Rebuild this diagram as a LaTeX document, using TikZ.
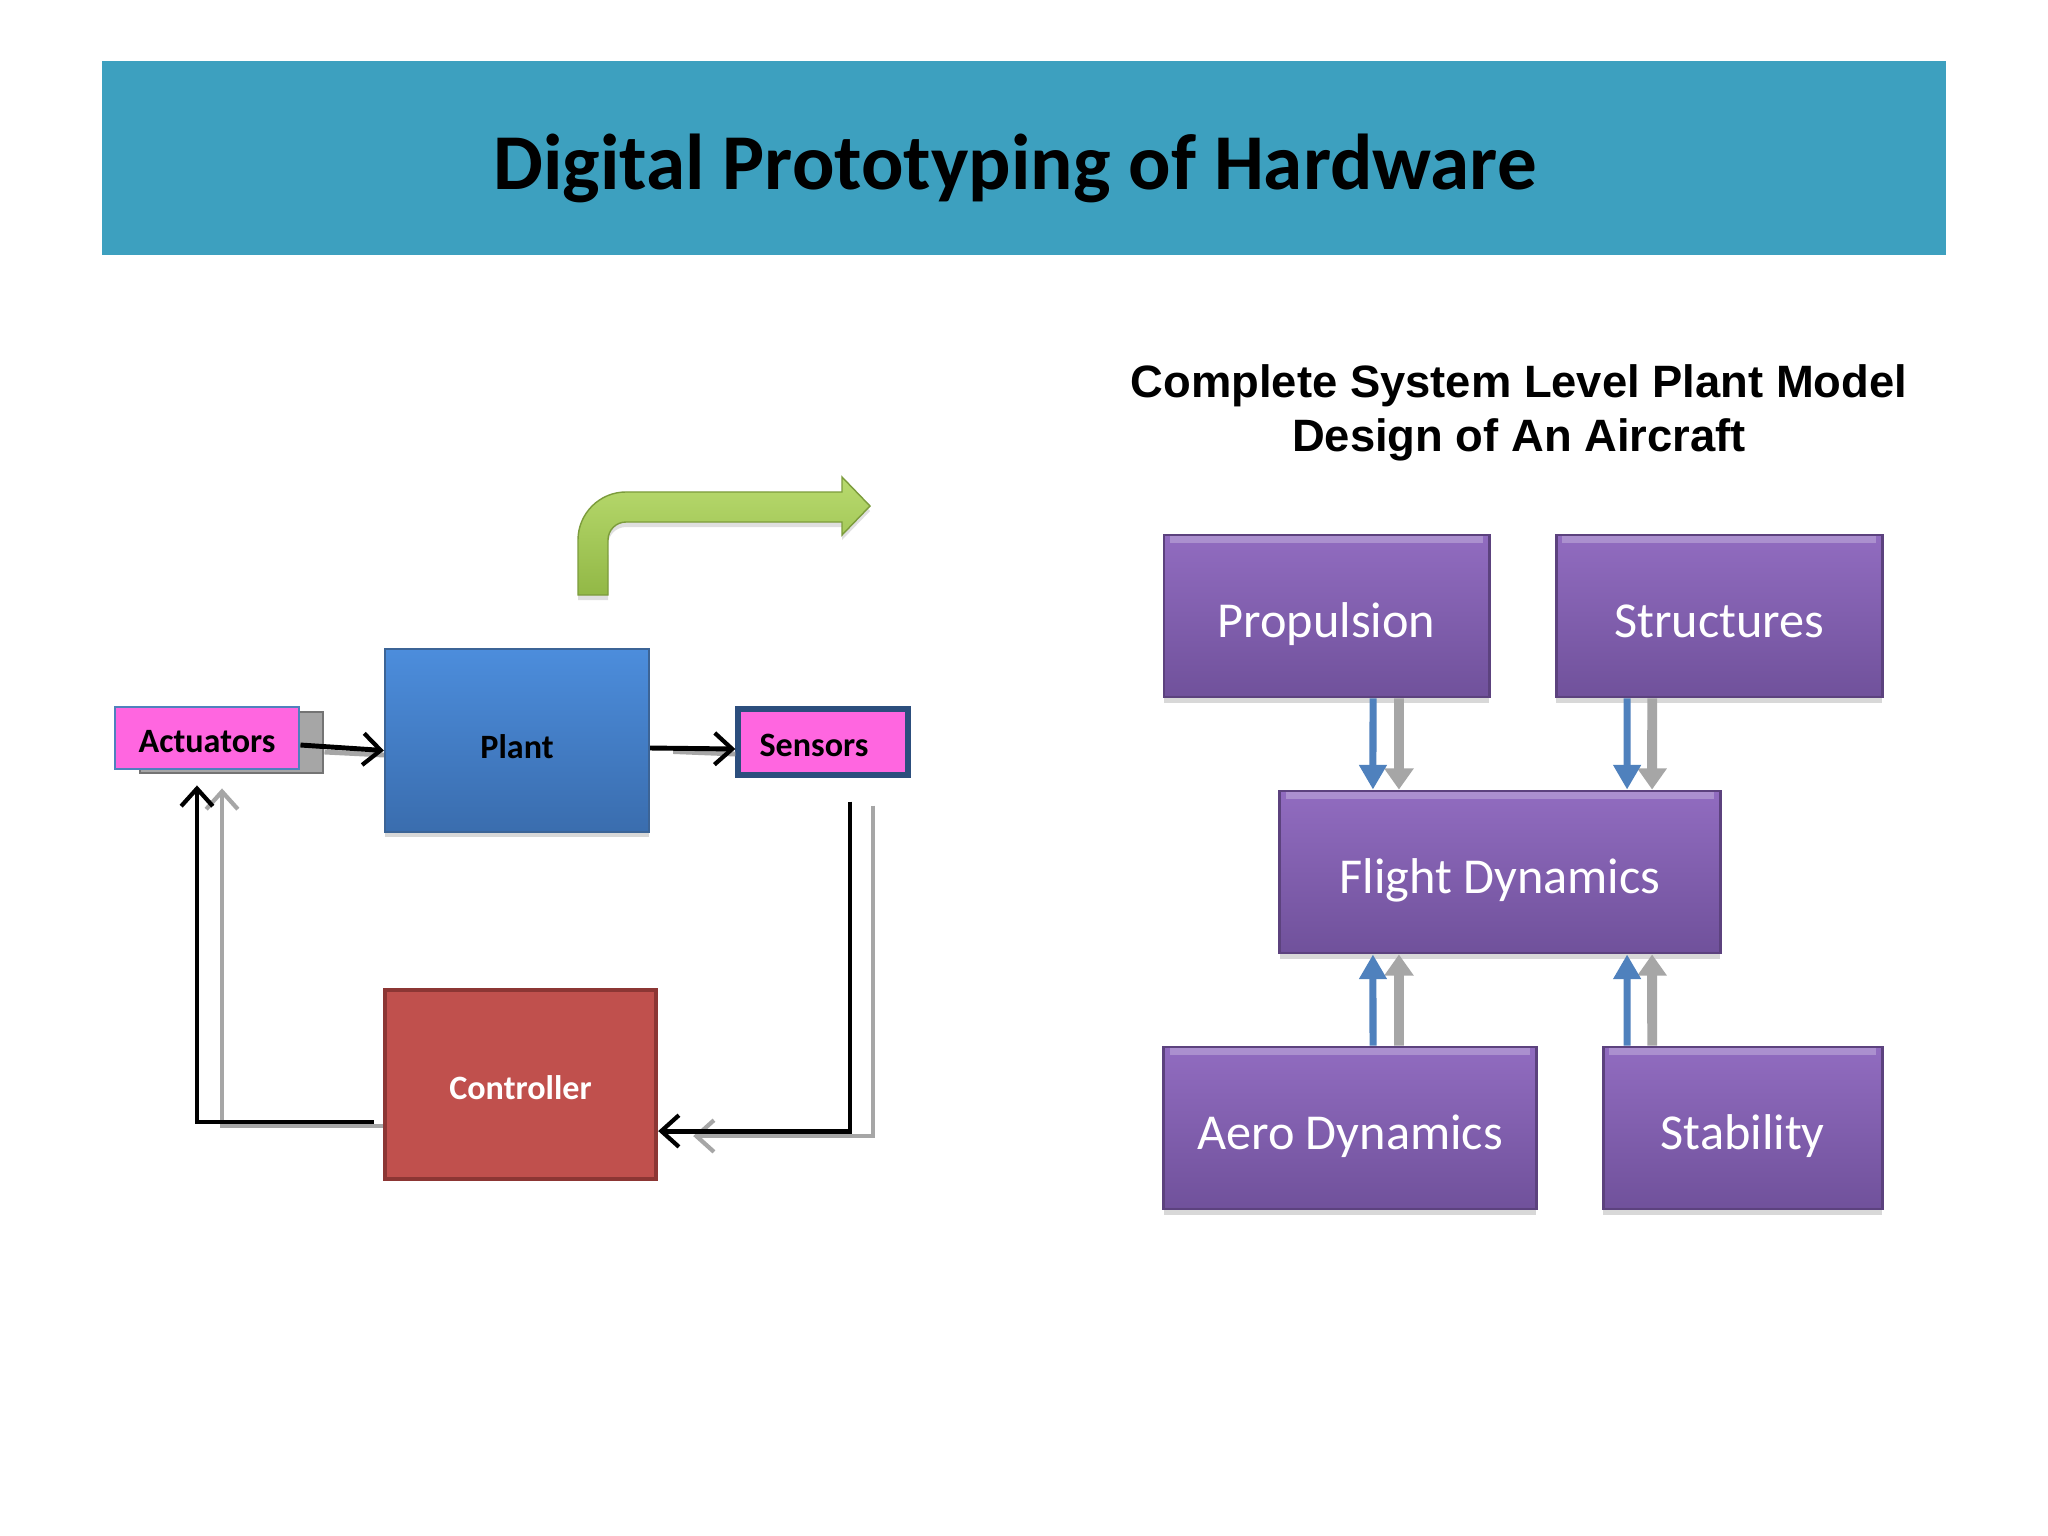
\documentclass[tikz,border=0pt]{standalone}
\usepackage{fontspec}
\setmainfont{Carlito}
\newfontfamily\arialfont{Liberation Sans}
\usetikzlibrary{positioning, arrows.meta, shadows}

\definecolor{titlebar}{RGB}{61,160,191}
\definecolor{pinkfill}{RGB}{255,102,224}
\definecolor{actedge}{RGB}{79,129,189}
\definecolor{sensedge}{RGB}{44,78,125}
\definecolor{planttop}{RGB}{76,141,220}
\definecolor{plantbot}{RGB}{58,109,174}
\definecolor{plantedge}{RGB}{60,100,150}
\definecolor{ctrlfill}{RGB}{192,80,77}
\definecolor{ctrledge}{RGB}{140,54,52}
\definecolor{purptop}{RGB}{145,108,192}
\definecolor{purpbot}{RGB}{112,81,155}
\definecolor{purpedge}{RGB}{92,66,126}
\definecolor{linkblue}{RGB}{79,129,189}
\definecolor{linkgray}{RGB}{166,166,166}
\definecolor{greenlight}{RGB}{184,218,110}
\definecolor{greendark}{RGB}{146,184,70}

\begin{document}
\begin{tikzpicture}[x=0.01cm, y=-0.01cm, inner sep=0pt, on grid,
    smallbox/.style={draw, rectangle, text height=0.85em, text depth=0.05em,
        font=\fontsize{9.7}{11}\selectfont\bfseries},
    bigbox/.style={rectangle, draw=purpedge, line width=0.8pt, top color=purptop, bottom color=purpbot,
        text=white, minimum height=1.62cm, text height=1.2em, text depth=0em,
        font=\fontsize{14.3}{17}\selectfont,
        drop shadow={shadow xshift=0cm, shadow yshift=-0.06cm, opacity=0.3},
        path picture={\draw[white, opacity=0.25, line width=0.08cm]
            ([xshift=0.06cm, yshift=-0.04cm]path picture bounding box.north west) --
            ([xshift=-0.06cm, yshift=-0.04cm]path picture bounding box.north east);}},
    fwd/.style={line width=1.4pt, -{Straight Barb[length=5pt, width=9pt, line width=1.2pt]}},
    fwdshade/.style={line width=1.4pt, draw=linkgray},
    link/.style={line width=2pt, draw=linkblue, -{Triangle[length=7pt, width=7.5pt]}},
    linkshade/.style={line width=2.8pt, draw=linkgray, -{Triangle[length=6pt, width=8pt]}},
    greenarrow/.style={top color=greenlight, bottom color=greendark, draw=greendark!85!black, line width=0.4pt,
        drop shadow={shadow xshift=0cm, shadow yshift=-0.05cm, opacity=0.25}}]

    \useasboundingbox[fill=white] (0,0) rectangle (2048,1536);

    % title
    \fill[titlebar] (102,61) rectangle (1946,255);
    \node[anchor=base, font=\fontsize{22.5}{27}\selectfont\bfseries] (title) at (1015,189) {Digital Prototyping of Hardware};

    % loop on the left
    \fill[linkgray, draw=linkgray!70!black, line width=0.4pt] (140,712) rectangle (323,773);
    \node[smallbox, fill=pinkfill, draw=actedge, line width=0.8pt, minimum width=1.84cm, minimum height=0.62cm] (act) at (207,738) {Actuators};
    \node[rectangle, draw=plantedge, line width=0.6pt, top color=planttop, bottom color=plantbot, minimum width=2.64cm, minimum height=1.83cm,
        text height=1.05em, text depth=0.05em, font=\fontsize{9.7}{11}\selectfont\bfseries,
        drop shadow={shadow xshift=0cm, shadow yshift=-0.05cm, opacity=0.3}] (plant) at (517,740.5) {Plant};
    \node[smallbox, fill=pinkfill, draw=sensedge, line width=1.5pt, minimum width=1.7cm, minimum height=0.66cm] (sens) at (823,742) {\hspace*{-0.18cm}Sensors};
    \node[rectangle, fill=ctrlfill, draw=ctrledge, line width=1.2pt, minimum width=2.71cm, minimum height=1.89cm,
        text=white, text height=0.9em, text depth=0.05em, font=\fontsize{9.7}{11}\selectfont\bfseries] (ctrl) at (520.5,1084.5) {Controller};

    \draw[fwdshade] ([xshift=.24cm, yshift=-.14cm]act.east) -- ([yshift=-.145cm]plant.west);
    \draw[fwdshade] ([xshift=.23cm, yshift=-.11cm]plant.east) -- ([yshift=-.12cm]sens.west);
    \draw[fwdshade, line width=1.2pt, -{Straight Barb[length=5pt, width=9pt, line width=1.2pt]}]
        ([xshift=.5cm, yshift=-.28cm]sens.south) |- ([xshift=.35cm, yshift=-.515cm]ctrl.east);
    \draw[fwdshade, line width=1.2pt, -{Straight Barb[length=5pt, width=9pt, line width=1.2pt]}]
        ([yshift=-.415cm]ctrl.west) -| ([xshift=.15cm, yshift=-.18cm]act.south);

    \draw[fwd] ([yshift=-.07cm]act.east) -- ([yshift=-.1cm]plant.west);
    \draw[fwd] ([yshift=-.075cm]plant.east) -- ([yshift=-.07cm]sens.west);
    \draw[fwd] ([xshift=.27cm, yshift=-.24cm]sens.south) |- ([yshift=-.465cm]ctrl.east);
    \draw[fwd] ([xshift=-.09cm, yshift=-.375cm]ctrl.west) -| ([xshift=-.1cm, yshift=-.15cm]act.south);

    % bent arrow
    \path[greenarrow] (578,595) -- (578,540) arc[start angle=180, end angle=90, radius=0.48cm] -- (842,492)
        -- (842,477) -- (870,506) -- (842,535) -- (842,522) -- (626,522)
        arc[start angle=90, end angle=180, radius=0.18cm] -- (608,595) -- cycle;

    % aircraft model on the right
    \node[align=center, font=\arialfont\fontsize{12.9}{15.4}\selectfont\bfseries] (model) at (1519,413)
        {Complete System Level Plant Model\\Design of An Aircraft};

    \node[bigbox, minimum width=3.25cm]             (prop)   at (1326.5,616)  {Propulsion};
    \node[bigbox, minimum width=3.26cm]             (struct) [right=3.925cm of prop] {Structures};
    \node[bigbox, minimum width=4.4cm]              (fd)     at (1500,872)    {Flight Dynamics};
    \node[bigbox, minimum width=3.72cm]             (aero)   at (1350,1128)   {Aero Dynamics};
    \node[bigbox, minimum width=2.79cm]             (stab)   [right=3.925cm of aero] {Stability};

    \draw[linkshade] ([xshift=.725cm]prop.south)    -- ([xshift=-1.01cm]fd.north);
    \draw[link]      ([xshift=.465cm]prop.south)    -- ([xshift=-1.27cm]fd.north);
    \draw[linkshade] ([xshift=-.67cm]struct.south)  -- ([xshift=1.52cm]fd.north);
    \draw[link]      ([xshift=-.92cm]struct.south)  -- ([xshift=1.27cm]fd.north);
    \draw[linkshade] ([xshift=.49cm]aero.north)     -- ([xshift=-1.01cm]fd.south);
    \draw[link]      ([xshift=.23cm]aero.north)     -- ([xshift=-1.27cm]fd.south);
    \draw[linkshade] ([xshift=-.905cm]stab.north)   -- ([xshift=1.52cm]fd.south);
    \draw[link]      ([xshift=-1.155cm]stab.north)  -- ([xshift=1.27cm]fd.south);
\end{tikzpicture}
\end{document}
